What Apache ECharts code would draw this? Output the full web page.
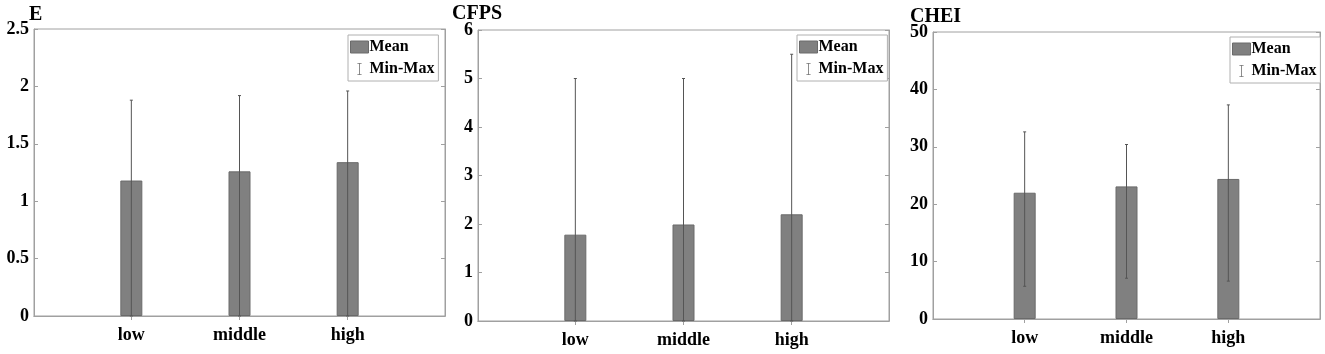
<!DOCTYPE html>
<html>
<head>
<meta charset="utf-8">
<script src="https://cdn.jsdelivr.net/npm/echarts@6/dist/echarts.min.js"></script>
<style>
  html, body { margin: 0; padding: 0; background: #fff; }
  #main { width: 1325px; height: 354px; }
</style>
</head>
<body>
<div id="main"></div>
<script>
// data
const categories = ["low", "middle", "high"];
const catPos = [1, 2, 3];
const titles = ["E", "CFPS", "CHEI"];

const eMean = [1.18, 1.26, 1.34];
const eMin = [0, 0, 0];
const eMax = [1.88, 1.92, 1.96];

const cfpsMean = [1.78, 1.99, 2.2];
const cfpsMin = [0, 0, 0];
const cfpsMax = [5, 5, 5.5];

const cheiMean = [22, 23.1, 24.4];
const cheiMin = [5.7, 7.1, 6.6];
const cheiMax = [32.6, 30.4, 37.3];

const yMaxes = [2.5, 6, 50];
const yIntervals = [0.5, 1, 10];

const means = [eMean, cfpsMean, cheiMean];
const mins = [eMin, cfpsMin, cheiMin];
const maxs = [eMax, cfpsMax, cheiMax];

// layout of the three panels
const grids = [
  { left: 34, top: 29, width: 411, height: 287 },
  { left: 478, top: 30, width: 411, height: 291 },
  { left: 933, top: 32, width: 387, height: 287 }
];
const titlePos = [
  { left: 29, top: 5 },
  { left: 452, top: 4 },
  { left: 910, top: 7 }
];
const legendPos = [
  { left: 348, top: 35 },
  { left: 797, top: 35 },
  { left: 1230, top: 37 }
];

const FONT = "Liberation Serif";
const AXIS_GRAY = "#a0a0a0";
const BAR_GRAY = "#808080";
const ERR_GRAY = "#555555";
const IBEAM = "path://M0,0h7v1.4h-2.8v17.2h2.8v1.4h-7v-1.4h2.8v-17.2h-2.8z";

const chart = echarts.init(document.getElementById("main"));

const xAxes = [];
const yAxes = [];
const series = [];

grids.forEach(function (g, i) {
  // bottom x axis with category labels
  xAxes.push({
    type: "value",
    gridIndex: i,
    min: 0.1,
    max: 3.9,
    position: "bottom",
    axisLine: { show: true, lineStyle: { color: AXIS_GRAY } },
    axisTick: { show: true, inside: true, length: 4, customValues: catPos, lineStyle: { color: AXIS_GRAY } },
    axisLabel: {
      customValues: catPos,
      formatter: function (v) { return categories[Math.round(v) - 1]; },
      color: "#000",
      fontFamily: FONT,
      fontWeight: "bold",
      fontSize: 18,
      margin: 10
    },
    splitLine: { show: false }
  });
  // left y axis
  yAxes.push({
    type: "value",
    gridIndex: i,
    min: 0,
    max: yMaxes[i],
    interval: yIntervals[i],
    position: "left",
    axisLine: { show: true, lineStyle: { color: AXIS_GRAY } },
    axisTick: { show: true, inside: true, length: 4, lineStyle: { color: AXIS_GRAY } },
    axisLabel: {
      color: "#000",
      fontFamily: FONT,
      fontWeight: "bold",
      fontSize: 18,
      margin: 5
    },
    splitLine: { show: false }
  });
});

// top and right axes, only for the box ticks
grids.forEach(function (g, i) {
  xAxes.push({
    type: "value",
    gridIndex: i,
    min: 0.1,
    max: 3.9,
    position: "top",
    axisLine: { show: true, lineStyle: { color: AXIS_GRAY } },
    axisTick: { show: true, inside: true, length: 4, customValues: catPos, lineStyle: { color: AXIS_GRAY } },
    axisLabel: { show: false },
    splitLine: { show: false }
  });
  yAxes.push({
    type: "value",
    gridIndex: i,
    min: 0,
    max: yMaxes[i],
    interval: yIntervals[i],
    position: "right",
    axisLine: { show: true, lineStyle: { color: AXIS_GRAY } },
    axisTick: { show: true, inside: true, length: 4, lineStyle: { color: AXIS_GRAY } },
    axisLabel: { show: false },
    splitLine: { show: false }
  });
});

grids.forEach(function (g, i) {
  series.push({
    name: "Mean",
    type: "bar",
    xAxisIndex: i,
    yAxisIndex: i,
    barWidth: 22,
    data: catPos.map(function (x, k) { return [x, means[i][k]]; }),
    itemStyle: { color: BAR_GRAY, borderColor: "#6a6a6a", borderWidth: 1 },
    z: 2
  });
  series.push({
    name: "Min-Max",
    type: "custom",
    xAxisIndex: i,
    yAxisIndex: i,
    data: catPos.map(function (x, k) { return [x, mins[i][k], maxs[i][k]]; }),
    encode: { x: 0, y: [1, 2] },
    itemStyle: { color: ERR_GRAY },
    z: 3,
    renderItem: function (params, api) {
      const lo = api.coord([api.value(0), api.value(1)]);
      const hi = api.coord([api.value(0), api.value(2)]);
      const cap = 1.5;
      const st = { stroke: ERR_GRAY, lineWidth: 1 };
      return {
        type: "group",
        children: [
          { type: "line", shape: { x1: lo[0], y1: lo[1], x2: hi[0], y2: hi[1] }, style: st },
          { type: "line", shape: { x1: hi[0] - cap, y1: hi[1], x2: hi[0] + cap, y2: hi[1] }, style: st },
          { type: "line", shape: { x1: lo[0] - cap, y1: lo[1], x2: lo[0] + cap, y2: lo[1] }, style: st }
        ]
      };
    }
  });
});

const option = {
  backgroundColor: "#fff",
  animation: false,
  title: titles.map(function (t, i) {
    return {
      text: t,
      left: titlePos[i].left,
      top: titlePos[i].top,
      padding: 0,
      textStyle: { fontFamily: FONT, fontWeight: "bold", fontSize: 20, color: "#000" }
    };
  }),
  grid: grids.map(function (g) {
    return {
      left: g.left,
      top: g.top,
      width: g.width,
      height: g.height,
      show: true,
      borderColor: AXIS_GRAY,
      borderWidth: 1,
      containLabel: false
    };
  }),
  legend: legendPos.map(function (p) {
    return {
      left: p.left,
      top: p.top,
      orient: "vertical",
      itemWidth: 18,
      itemHeight: 12,
      itemGap: 6,
      padding: [4, 4, 4, 2],
      borderColor: "#b0b0b0",
      borderWidth: 1,
      backgroundColor: "#fff",
      selectedMode: false,
      textStyle: { fontFamily: FONT, fontWeight: "bold", fontSize: 16, color: "#000", padding: [0, 0, 0, -4] },
      data: [
        { name: "Mean", icon: "rect", itemStyle: { color: BAR_GRAY, borderColor: "#6a6a6a", borderWidth: 1 } },
        { name: "Min-Max", icon: IBEAM, itemStyle: { color: "#777" } }
      ]
    };
  }),
  xAxis: xAxes,
  yAxis: yAxes,
  series: series
};

chart.setOption(option);
</script>
</body>
</html>
